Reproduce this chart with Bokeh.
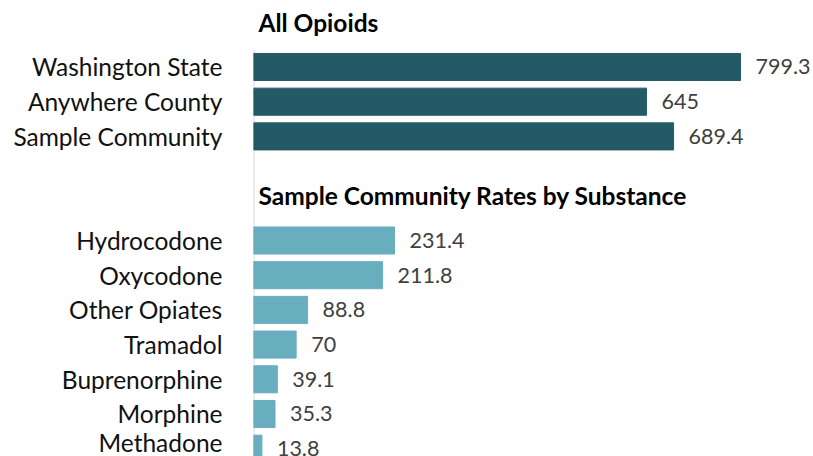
from bokeh.plotting import figure
from bokeh.models import ColumnDataSource, Range1d, FixedTicker
from bokeh.core.properties import value
from bokeh.embed import file_html
from bokeh.resources import INLINE

# ---- data ----
overall_names = ["Washington State", "Anywhere County", "Sample Community"]
overall_values = [799.3, 645, 689.4]

substance_names = ["Hydrocodone", "Oxycodone", "Other Opiates", "Tramadol",
                   "Buprenorphine", "Morphine", "Methadone"]
substance_values = [231.4, 211.8, 88.8, 70, 39.1, 35.3, 13.8]

heading_overall = "All Opioids"
heading_substance = "Sample Community Rates by Substance"

DARK = "#245A66"
LIGHT = "#69AEBF"
FONT = "Lato"

# row slots (layout)
overall_pos = [0, 1, 2]
substance_pos = [5 + i for i in range(len(substance_names))]

def fmt(v):
    return f"{v:g}"

src1 = ColumnDataSource(dict(y=overall_pos, v=overall_values,
                             lab=[fmt(v) for v in overall_values]))
src2 = ColumnDataSource(dict(y=substance_pos, v=substance_values,
                             lab=[fmt(v) for v in substance_values]))

p = figure(width=813, height=456, output_backend="svg", toolbar_location=None,
           x_range=Range1d(0, 919), y_range=Range1d(11.225, -1.916),
           min_border_left=253, min_border_right=0, min_border_top=0,
           min_border_bottom=0)
p.outline_line_color = None
p.xgrid.visible = False
p.ygrid.visible = False
p.xaxis.visible = False

ya = p.yaxis[0]
ya.ticker = FixedTicker(ticks=overall_pos + substance_pos)
ya.major_label_overrides = {**{pos: n for pos, n in zip(overall_pos, overall_names)},
                            **{pos: n for pos, n in zip(substance_pos, substance_names)}}
ya.axis_line_color = None
ya.major_tick_line_color = None
ya.minor_tick_line_color = None
ya.major_tick_in = 0
ya.major_tick_out = 0
ya.major_label_standoff = 31
ya.major_label_text_font = FONT
ya.major_label_text_font_size = "24.5px"
ya.major_label_text_color = "#111111"

# axis line (starts at top of first bar)
p.segment(x0=[0], x1=[0], y0=[-0.48], y1=[12], line_color="#D9D9D9", line_width=2)

p.hbar(y="y", right="v", left=0, height=0.78, source=src1, color=DARK)
p.hbar(y="y", right="v", left=0, height=0.78, source=src2, color=LIGHT)

for s in (src1, src2):
    p.text(x="v", y="y", text="lab", source=s, x_offset=15,
           text_font=value(FONT), text_font_size="21.5px", text_color="#404040",
           text_baseline="middle", text_align="left")

p.text(x=[0], y=[-1.28], text=[heading_overall], x_offset=5,
       text_font=value(FONT), text_font_size="24.5px", text_font_style="bold",
       text_color="#000000", text_baseline="middle", text_align="left")
p.text(x=[0], y=[3.70], text=[heading_substance], x_offset=5,
       text_font=value(FONT), text_font_size="24.5px", text_font_style="bold",
       text_color="#000000", text_baseline="middle", text_align="left")

open("out.html", "w").write(file_html(p, INLINE))
